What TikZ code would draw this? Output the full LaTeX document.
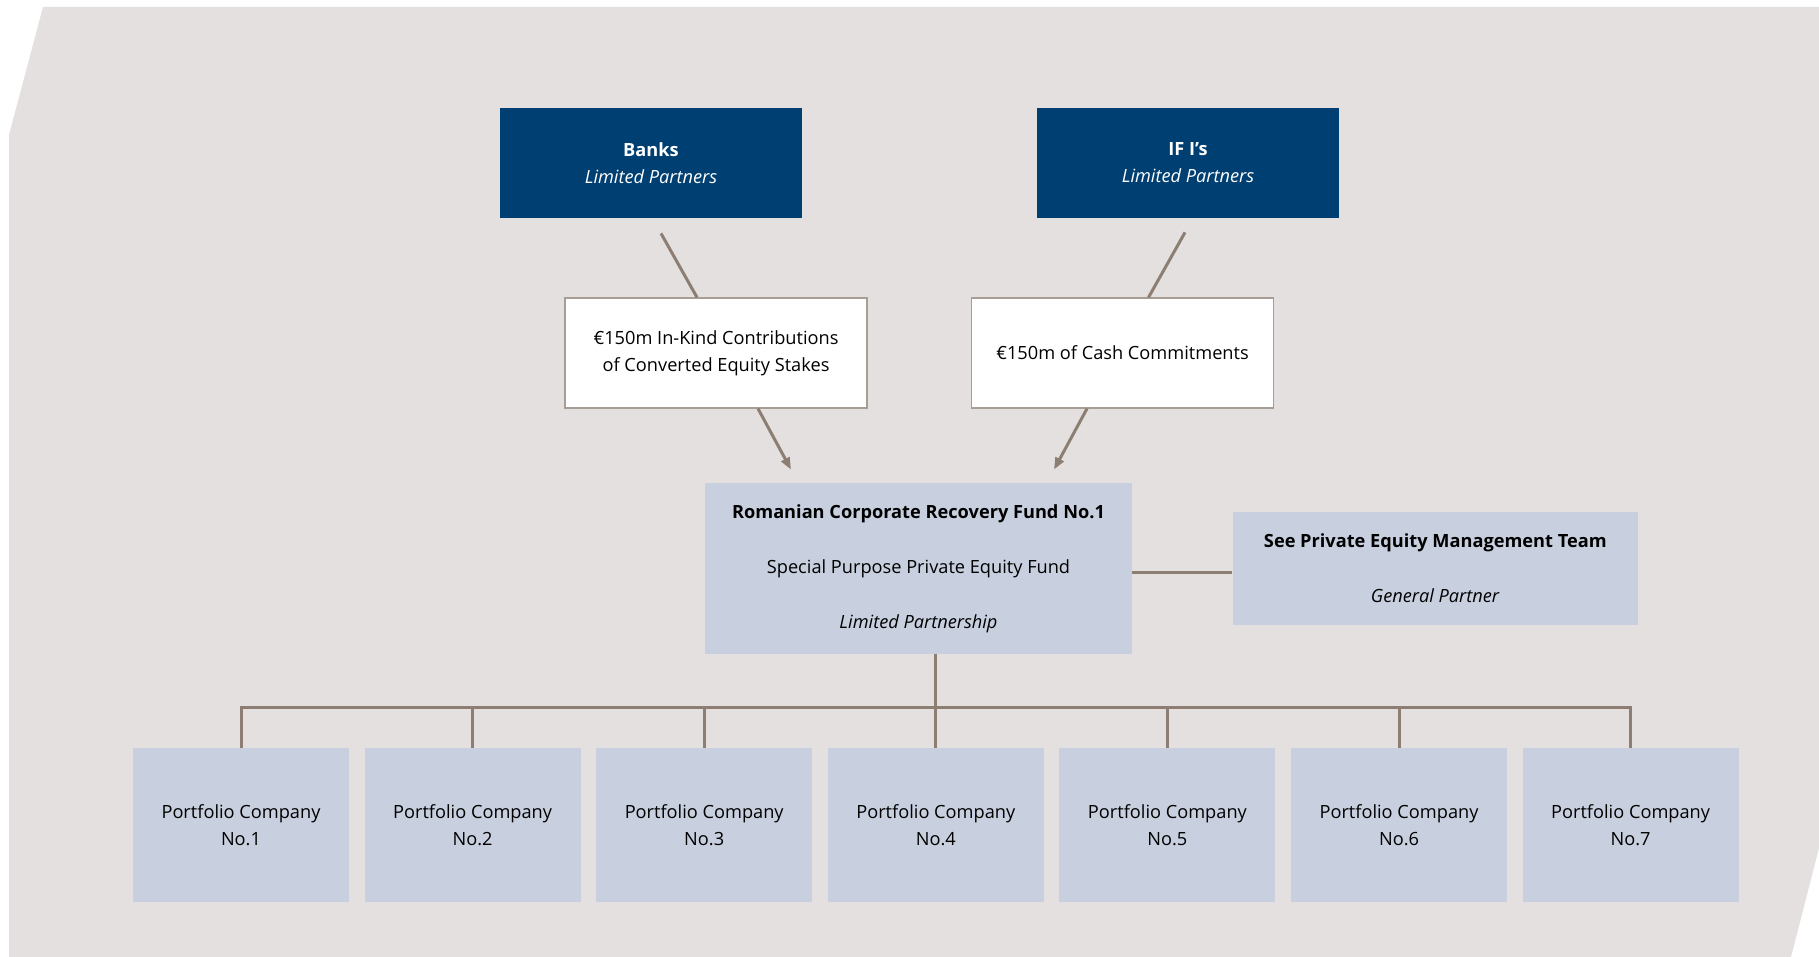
\documentclass[tikz,border=0pt]{standalone}
\usepackage{fontspec}
\setmainfont{Open Sans}
\usetikzlibrary{arrows.meta,positioning}
\definecolor{panelgrey}{HTML}{E4E0DF}
\definecolor{navy}{HTML}{003F72}
\definecolor{paleblue}{HTML}{C8CFDE}
\definecolor{linkbrown}{HTML}{8C7E72}
\definecolor{edgegrey}{HTML}{A69D95}
\tikzset{every picture/.style={font issue=\fontsize{9.1}{13.5}},
         font issue/.style={execute at begin picture={#1\selectfont}}
        }

\begin{document}
\begin{tikzpicture}[x=0.5pt,y=-0.5pt,
    lpbox/.style={rectangle, fill=navy, text=white, align=center, minimum width=151pt, minimum height=55pt},
    contribbox/.style={rectangle, fill=white, draw=edgegrey, line width=0.6pt, align=center, minimum width=151pt, minimum height=55pt},
    fundbox/.style={rectangle, fill=paleblue, align=center},
    pcbox/.style={rectangle, fill=paleblue, align=center, minimum width=108pt, minimum height=77pt},
    link/.style={draw=linkbrown, line width=1.5pt},
    flow/.style={link, -{Triangle[length=6pt, width=4.5pt]}}]
    \useasboundingbox (0,0) rectangle (1819,957);
    \fill[white] (0,0) rectangle (1819,957);
    \fill[panelgrey] (43,7) -- (1819,7) -- (1819,848) -- (1791,957) -- (9,957) -- (9,135) -- cycle;

    \node[fundbox, minimum width=213.5pt, minimum height=85.5pt] at (918.5,568.5) (fund){\textbf{Romanian Corporate Recovery Fund No.1}\\[14pt]Special Purpose Private Equity Fund\\[14pt]\textit{Limited Partnership}};
        \node[fundbox, minimum width=202.5pt, minimum height=56.5pt, right = 50pt of fund](gp){\textbf{See Private Equity Management Team}\\[14pt]\textit{General Partner}};
    \node[lpbox] at (651,163) (banks){\textbf{Banks}\\\textit{Limited Partners}};
    \node[lpbox] at (1188,163) (ifi){\textbf{IF I’s}\\\textit{Limited Partners}};
        \node[contribbox] at (716,353) (inkind){€150m In-Kind Contributions\\of Converted Equity Stakes};
        \node[contribbox] at (1122.5,353) (cash){€150m of Cash Commitments};

    % portfolio companies
    \node[pcbox] at (241,825) (pc1){Portfolio Company\\No.1};
    \foreach \i [remember=\i as \prev (initially 1)] in {2,...,7}
        \node[pcbox, right = 7.4pt of pc\prev](pc\i){Portfolio Company\\No.\i};

    \coordinate (banks_out) at ([shift={(5pt,-7.5pt)}]banks.south);
    \coordinate (ifi_out) at ([shift={(-1.5pt,-7pt)}]ifi.south);
    \coordinate (fund_in1) at ([shift={(-63.75pt,6.5pt)}]fund.north);
    \coordinate (fund_in2) at ([shift={(67.75pt,6.5pt)}]fund.north);
    \coordinate (fund_out) at ([yshift=-2pt]fund.east);
    \coordinate (bus) at ([yshift=20pt]pc1.north);

    \draw[link] (banks_out) -- ([xshift=-9.5pt]inkind.north);
    \draw[flow] ([xshift=21pt]inkind.south) -- (fund_in1);
    \draw[link] (ifi_out) -- ([xshift=13pt]cash.north);
    \draw[flow] ([xshift=-17.75pt]cash.south) -- (fund_in2);

    \draw[link] (fund_out) -- (fund_out -| gp.west);
    \draw[link] (fund.south -| pc4.north) -- (pc4.north);
    \draw[link] (pc1.north) -- (bus) -| (pc7.north);
    \foreach \i in {2,...,6}
        \draw[link] (pc\i.north) -- (pc\i.north |- bus);
\end{tikzpicture}
\end{document}
